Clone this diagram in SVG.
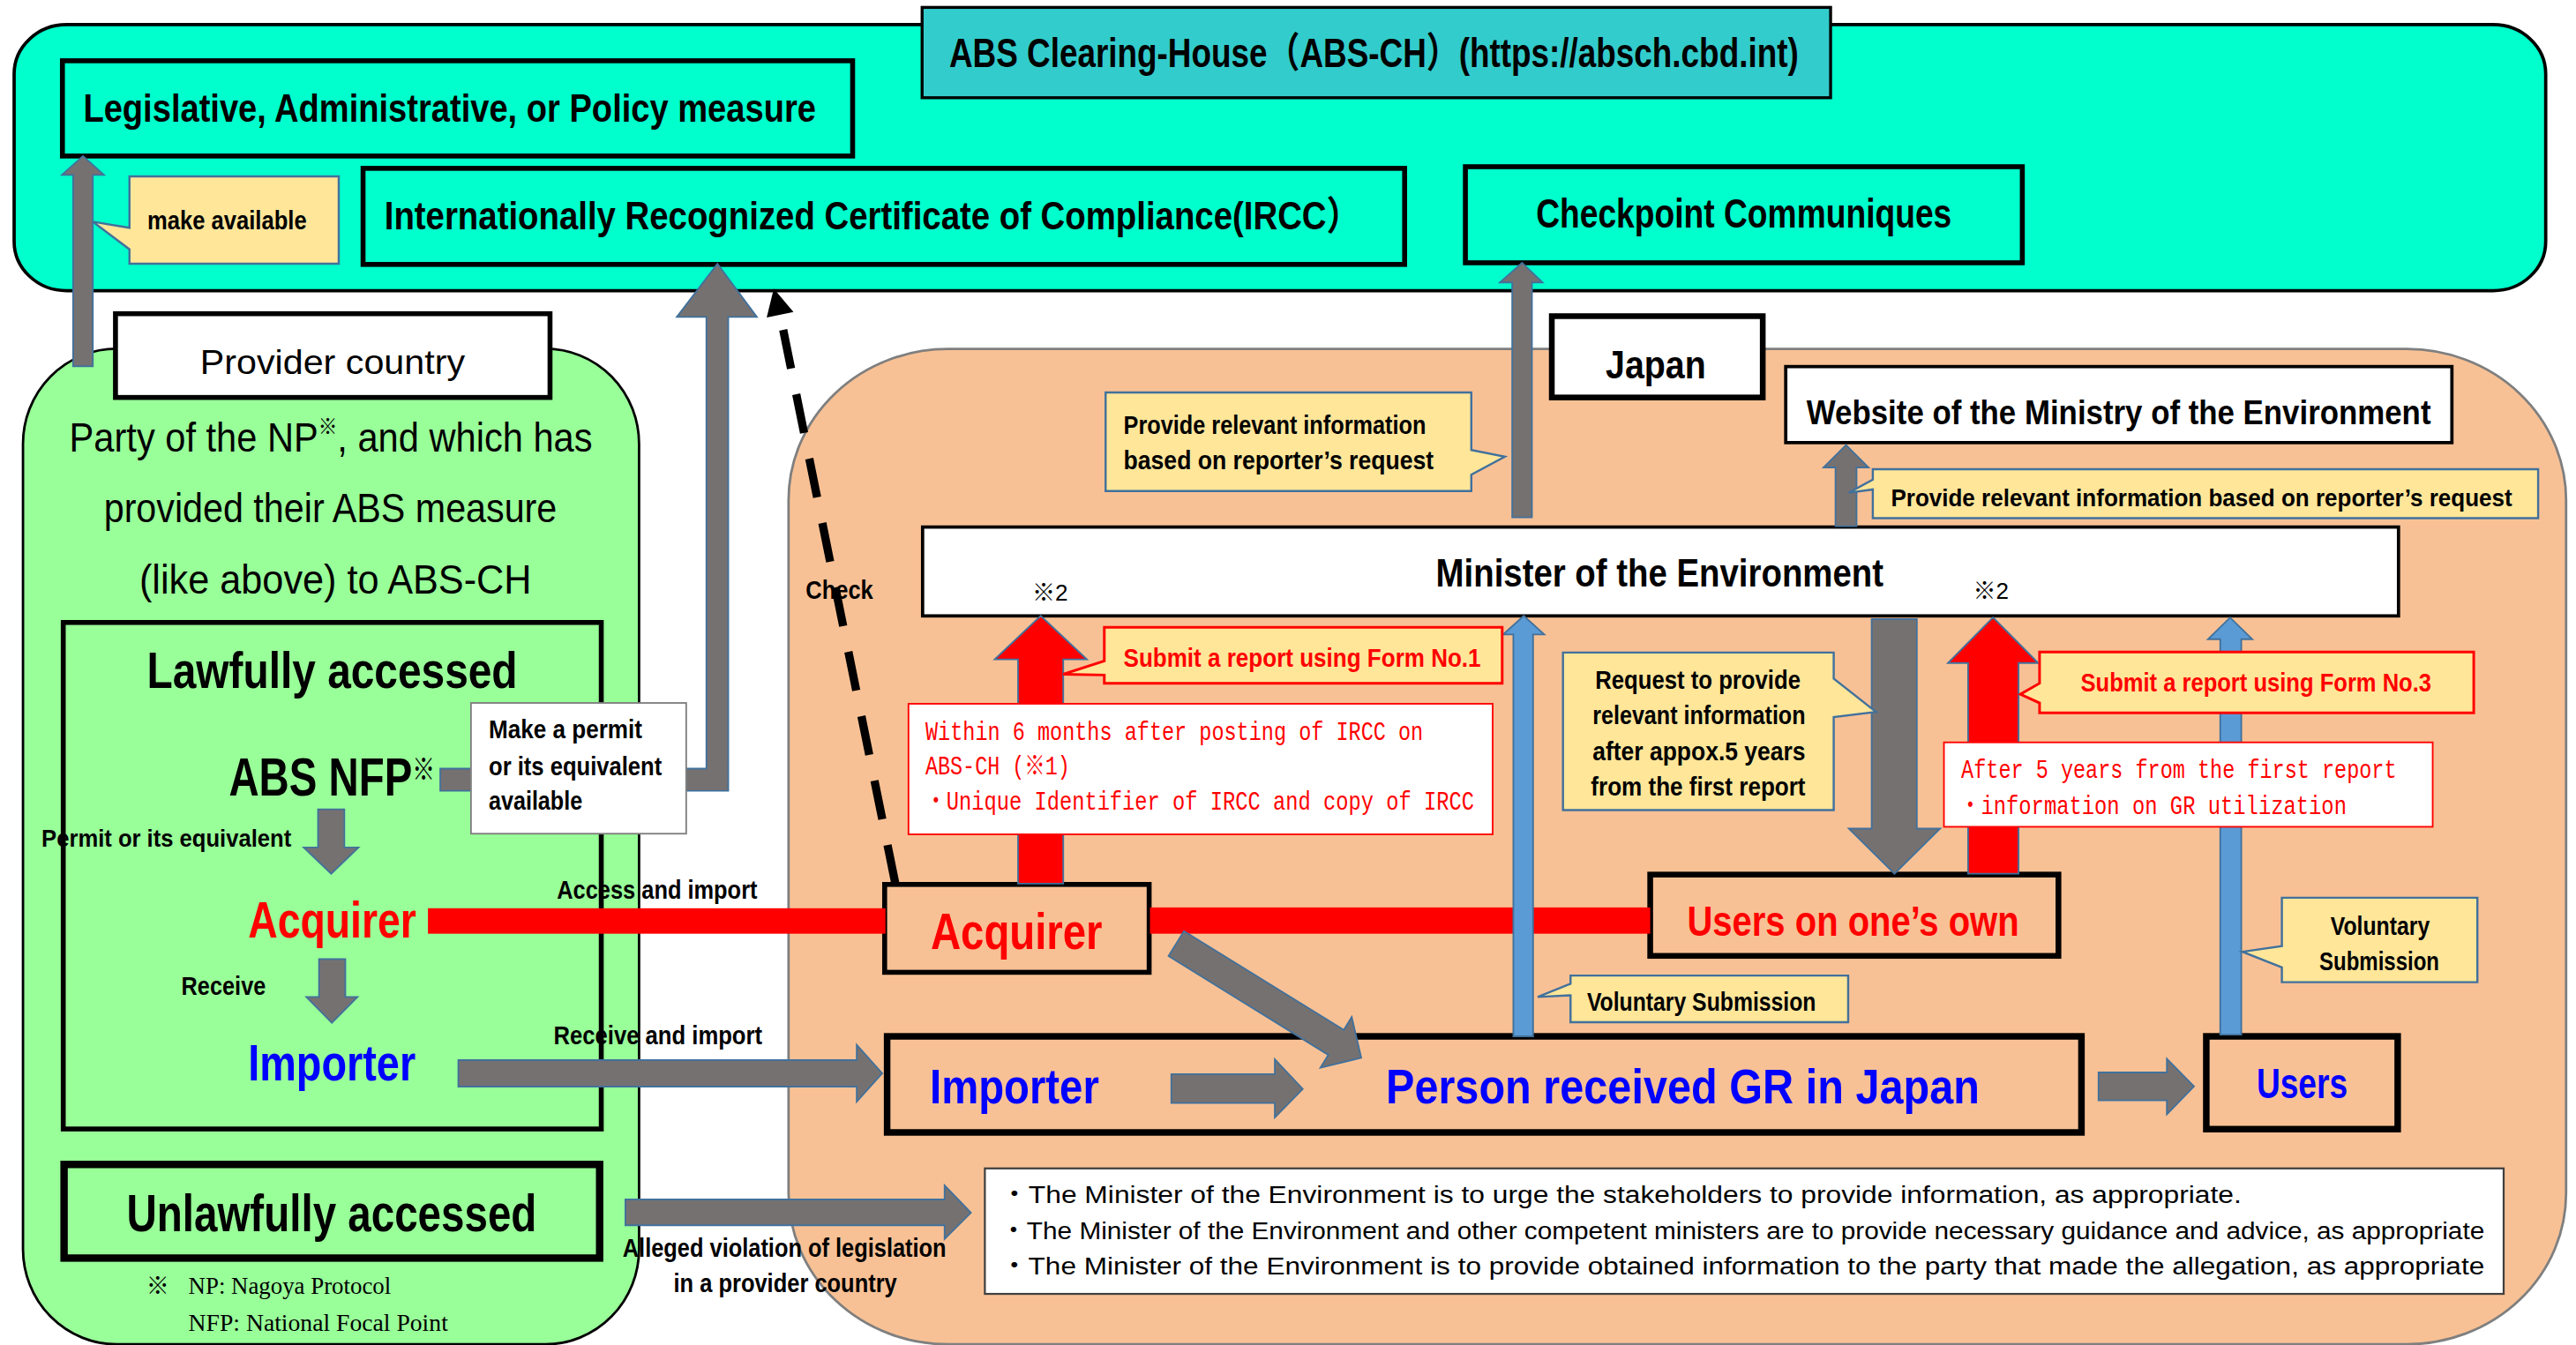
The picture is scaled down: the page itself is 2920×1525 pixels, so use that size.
<svg xmlns="http://www.w3.org/2000/svg" width="2920" height="1525" viewBox="0 0 2920 1525">
<defs>
<style>
.b{font-family:'Liberation Sans','Noto Sans CJK JP',sans-serif;font-weight:bold;fill:#000}
.n{font-family:'Liberation Sans','Noto Sans CJK JP',sans-serif;font-weight:normal;fill:#000}
.m{font-family:'Liberation Mono','Noto Sans CJK JP',monospace;font-weight:normal}
.s{font-family:'Liberation Serif','Noto Serif CJK JP',serif;fill:#000}
.rd{fill:#FF0000}
.bl{fill:#0000FF}
.box{fill:none;stroke:#000}
.wbox{fill:#FFFFFF;stroke:#000}
.gray{fill:#767171;stroke:#41719C;stroke-width:1}
.redar{fill:#FF0000;stroke:#41719C;stroke-width:1}
.bluar{fill:#5B9BD5;stroke:#41719C;stroke-width:1}
.call{fill:#FFE699;stroke:#41719C;stroke-width:1.3}
.callr{fill:#FFE699;stroke:#FF0000;stroke-width:1.6}
.rbox{fill:#FFFFFF;stroke:#FF0000;stroke-width:1}
.rbar{fill:#FF0000}
</style>
</defs>
<rect x="0" y="0" width="2920" height="1525" fill="#FFFFFF"/>
<g transform="scale(1.8622)">

<!-- containers -->
<g id="abs-ch">
<rect x="8.6" y="15" width="1541" height="162" rx="32" ry="30" fill="#00FFCC" stroke="#000" stroke-width="2"/>
<rect x="561.3" y="4.5" width="553" height="55" fill="#33CCCC" stroke="#000" stroke-width="1.8"/>
<text class="b" x="577.8" y="41" font-size="25" textLength="517" lengthAdjust="spacingAndGlyphs">ABS Clearing-House（ABS-CH）(https://absch.cbd.int)</text>
</g>

<g id="provider-country">
<rect x="14" y="212.3" width="375" height="606.2" rx="57" ry="58" fill="#99FF99" stroke="#000" stroke-width="1.5"/>
<rect x="70.3" y="191" width="264.5" height="51" class="wbox" stroke-width="3"/>
<text class="n" x="121.8" y="227.7" font-size="21" textLength="161.2" lengthAdjust="spacingAndGlyphs">Provider country</text>
<text class="n" x="42.2" y="275" font-size="25" textLength="318.4" lengthAdjust="spacingAndGlyphs">Party of the NP<tspan font-size="13" dy="-11">※</tspan><tspan dy="11">, and which has</tspan></text>
<text class="n" x="63.2" y="318" font-size="25" textLength="275.8" lengthAdjust="spacingAndGlyphs">provided their ABS measure</text>
<text class="n" x="84.8" y="361.3" font-size="25" textLength="238.8" lengthAdjust="spacingAndGlyphs">(like above) to ABS-CH</text>
</g>

<g id="japan">
<rect x="480" y="212.5" width="1082" height="606" rx="97" ry="92" fill="#F8C195" stroke="#7F7F7F" stroke-width="1.5"/>
<rect x="944.6" y="192.5" width="128.4" height="49.5" class="wbox" stroke-width="3.5"/>
<text class="b" x="977.4" y="230.5" font-size="24" textLength="61" lengthAdjust="spacingAndGlyphs">Japan</text>
</g>

<!-- nodes -->
<g id="legislative-measure">
<rect x="38" y="37" width="481" height="58" class="box" stroke-width="3"/>
<text class="b" x="50.7" y="74.3" font-size="24" textLength="446" lengthAdjust="spacingAndGlyphs">Legislative, Administrative, or Policy measure</text>
</g>

<g id="ircc">
<rect x="221" y="102.5" width="634" height="58.5" class="box" stroke-width="3"/>
<text class="b" x="234" y="139.6" font-size="24" textLength="594" lengthAdjust="spacingAndGlyphs">Internationally Recognized Certificate of Compliance(IRCC）</text>
</g>

<g id="checkpoint-communiques">
<rect x="892" y="101.5" width="339" height="58.5" class="box" stroke-width="3"/>
<text class="b" x="935" y="138.7" font-size="25" textLength="253" lengthAdjust="spacingAndGlyphs">Checkpoint Communiques</text>
</g>

<g id="lawfully-accessed">
<rect x="38.5" y="379" width="327.5" height="308.4" class="box" stroke-width="3"/>
<text class="b" x="89.4" y="419" font-size="31" textLength="225.6" lengthAdjust="spacingAndGlyphs">Lawfully accessed</text>
</g>

<g id="abs-nfp">
<text class="b" x="139.3" y="484.6" font-size="33" textLength="125.5" lengthAdjust="spacingAndGlyphs">ABS NFP<tspan font-size="18" dy="-10">※</tspan></text>
</g>

<g id="acquirer-provider">
<text class="b rd" x="151" y="571" font-size="31" textLength="102.4" lengthAdjust="spacingAndGlyphs">Acquirer</text>
</g>

<g id="importer-provider">
<text class="b bl" x="151" y="658" font-size="31" textLength="102" lengthAdjust="spacingAndGlyphs">Importer</text>
</g>

<g id="unlawfully-accessed">
<rect x="39" y="709" width="326" height="57" class="box" stroke-width="4.5"/>
<text class="b" x="77" y="749.4" font-size="32" textLength="249.7" lengthAdjust="spacingAndGlyphs">Unlawfully accessed</text>
</g>

<g id="website-moe">
<rect x="1087" y="223.2" width="405.5" height="46.3" class="wbox" stroke-width="2"/>
<text class="b" x="1099.7" y="258.2" font-size="21" textLength="380" lengthAdjust="spacingAndGlyphs">Website of the Ministry of the Environment</text>
</g>

<g id="minister">
<rect x="561.6" y="320.9" width="898.4" height="54.1" class="wbox" stroke-width="2"/>
<text class="b" x="874" y="357" font-size="24" textLength="272.5" lengthAdjust="spacingAndGlyphs">Minister of the Environment</text>
<text class="n" x="628.3" y="365.9" font-size="14">※2</text>
<text class="n" x="1201" y="364.8" font-size="14">※2</text>
</g>

<g id="acquirer-japan">
<rect x="538.5" y="538.5" width="161" height="53.5" class="box" stroke-width="3"/>
<text class="b rd" x="566.5" y="578" font-size="31" textLength="104.5" lengthAdjust="spacingAndGlyphs">Acquirer</text>
</g>

<g id="users-own">
<rect x="1004.5" y="532.5" width="248.5" height="49.5" class="box" stroke-width="3.5"/>
<text class="b rd" x="1027" y="570" font-size="26" textLength="202" lengthAdjust="spacingAndGlyphs">Users on one’s own</text>
</g>

<g id="person-received-gr">
<rect x="540" y="631" width="727" height="58.5" class="box" stroke-width="4"/>
<text class="b bl" x="566" y="671.6" font-size="30" textLength="103" lengthAdjust="spacingAndGlyphs">Importer</text>
<text class="b bl" x="843.6" y="671.6" font-size="30" textLength="361.4" lengthAdjust="spacingAndGlyphs">Person received GR in Japan</text>
</g>

<g id="users">
<rect x="1343" y="631" width="116.5" height="56.5" class="box" stroke-width="4"/>
<text class="b bl" x="1373.6" y="668.6" font-size="26" textLength="55.4" lengthAdjust="spacingAndGlyphs">Users</text>
</g>

<!-- connectors -->
<g id="connectors">
<polygon class="gray" points="44.5,223 44.5,106.5 37.7,106.5 50.5,95 63.3,106.5 56.5,106.5 56.5,223"/>
<polygon class="gray" points="268,468 430,468 430,193 412,193 436.7,160.6 460.7,193 443.3,193 443.3,481.5 268,481.5"/>
<line x1="545" y1="538" x2="474.9" y2="191.7" stroke="#000" stroke-width="5" stroke-dasharray="24 16"/>
<polygon fill="#000" points="471,175.8 466.7,193.3 483,190"/>
<polygon class="gray" points="193.6,492.8 209.6,492.8 209.6,516 218.2,516 201.6,532 184.9,516 193.6,516"/>
<polygon class="gray" points="194.2,584 210.2,584 210.2,607 217.6,607 202,622.8 186.5,607 194.2,607"/>
<rect class="rbar" x="260.5" y="553" width="278.5" height="15.5"/>
<rect class="rbar" x="700" y="552.5" width="304.5" height="16"/>
<polygon class="gray" points="279,645.5 521.5,645.5 521.5,636.2 537,653.5 521.5,670.8 521.5,661.6 279,661.6"/>
<polygon class="gray" points="380.7,730.3 575,730.3 575,721.8 591,738.4 575,754.3 575,746 380.7,746"/>
<polygon class="gray" points="920.5,315 920.5,172 913,172 926.5,160 939,172 932.5,172 932.5,315"/>
<polygon class="gray" points="1117.3,320.4 1117.3,284.6 1110,284.6 1123.7,271 1137.4,284.6 1130.1,284.6 1130.1,320.4"/>
<polygon class="redar" points="619.7,538 619.7,401.5 605.5,401.5 633.5,375 661.6,401.5 647.2,401.5 647.2,538"/>
<polygon class="bluar" points="921.2,631 921.2,386.3 915,386.3 927.5,375 940,386.3 933.2,386.3 933.2,631"/>
<polygon class="gray" points="1139.3,377 1166.8,377 1166.8,504.5 1181,504.5 1153.2,532 1125.4,504.5 1139.3,504.5"/>
<polygon class="redar" points="1198,532 1198,403.7 1185.7,403.7 1213.2,376 1240.7,403.7 1228.7,403.7 1228.7,532"/>
<polygon class="bluar" points="1351.5,630 1351.5,389.2 1344,389.2 1357.5,376 1371,389.2 1364.3,389.2 1364.3,630"/>
<polygon class="gray" points="720.7,566.9 818,627.1 822.8,619.3 828.6,644 803.8,650.1 808.6,642.3 711.3,582.1"/>
<polygon class="gray" points="713,654 776,654 776,645 793,663 776,680.4 776,671.6 713,671.6"/>
<polygon class="gray" points="1277.4,653 1319,653 1319,644.7 1335.5,661.5 1319,678.5 1319,670 1277.4,670"/>
</g>

<!-- annotations -->
<g id="make-permit-available">
<rect x="286.7" y="428" width="131" height="79.6" fill="#FFFFFF" stroke="#7F7F7F" stroke-width="1"/>
<text class="b" x="297.5" y="449.6" font-size="16" textLength="93.4" lengthAdjust="spacingAndGlyphs">Make a permit</text>
<text class="b" x="297.5" y="471.9" font-size="16" textLength="105.4" lengthAdjust="spacingAndGlyphs">or its equivalent</text>
<text class="b" x="297.5" y="492.8" font-size="16" textLength="57" lengthAdjust="spacingAndGlyphs">available</text>
</g>

<g id="callout-make-available">
<path class="call" d="M78.8,107.4 H206.2 V160.6 H78.8 V151.8 L56.5,135 L78.8,138.7 Z"/>
<text class="b" x="89.7" y="139.6" font-size="16" textLength="97" lengthAdjust="spacingAndGlyphs">make available</text>
</g>

<g id="callout-provide-left">
<path class="call" d="M673,239 H895.6 V274 L916,278 L895.6,289 V299 H673 Z"/>
<text class="b" x="683.9" y="264" font-size="16" textLength="184.1" lengthAdjust="spacingAndGlyphs">Provide relevant information</text>
<text class="b" x="683.9" y="285.8" font-size="16" textLength="188.8" lengthAdjust="spacingAndGlyphs">based on reporter’s request</text>
</g>

<g id="callout-provide-right">
<path class="call" d="M1140,285.7 H1545 V315.5 H1140 V298 L1125.4,300 L1140,292 Z"/>
<text class="b" x="1151" y="308" font-size="15" textLength="378.2" lengthAdjust="spacingAndGlyphs">Provide relevant information based on reporter’s request</text>
</g>

<g id="callout-form1">
<path class="callr" d="M672.2,382 H914.4 V416 H672.2 V411 L647.2,410.5 L672.2,402.5 Z"/>
<text class="b rd" x="683.9" y="405.8" font-size="16" textLength="217.5" lengthAdjust="spacingAndGlyphs">Submit a report  using Form No.1</text>
</g>

<g id="note-within-6-months">
<rect class="rbox" x="553" y="428.5" width="355.6" height="79.5"/>
<text class="m rd" x="563.3" y="450.4" font-size="16" textLength="303" lengthAdjust="spacingAndGlyphs">Within 6 months after posting of IRCC on</text>
<text class="m rd" x="563.3" y="471.6" font-size="16" textLength="88" lengthAdjust="spacingAndGlyphs">ABS-CH (※1)</text>
<text class="m rd" x="563.3" y="493.2" font-size="16" textLength="334" lengthAdjust="spacingAndGlyphs">・Unique Identifier of IRCC and copy of IRCC</text>
</g>

<g id="callout-request">
<path class="call" d="M951.4,397.3 H1116.2 V413.2 L1141.9,433.4 L1116.2,436.6 V493.2 H951.4 Z"/>
<text class="b" x="971" y="419.6" font-size="16" textLength="125" lengthAdjust="spacingAndGlyphs">Request to provide</text>
<text class="b" x="969.4" y="440.9" font-size="16" textLength="129.6" lengthAdjust="spacingAndGlyphs">relevant information</text>
<text class="b" x="969.4" y="463.1" font-size="16" textLength="129.6" lengthAdjust="spacingAndGlyphs">after appox.5 years</text>
<text class="b" x="968.4" y="484.4" font-size="16" textLength="130.6" lengthAdjust="spacingAndGlyphs">from the first report</text>
</g>

<g id="callout-form3">
<path class="callr" d="M1241.5,397 H1505.8 V434 H1241.5 V428 L1229.8,422.7 L1241.5,416 Z"/>
<text class="b rd" x="1266.5" y="421" font-size="16" textLength="213.5" lengthAdjust="spacingAndGlyphs">Submit a report using Form No.3</text>
</g>

<g id="note-after-5-years">
<rect class="rbox" x="1183.3" y="452" width="297.5" height="51.4"/>
<text class="m rd" x="1193.8" y="473.6" font-size="16" textLength="265" lengthAdjust="spacingAndGlyphs">After 5 years from the first report</text>
<text class="m rd" x="1193" y="495.4" font-size="16" textLength="235.4" lengthAdjust="spacingAndGlyphs">・information on GR utilization</text>
</g>

<g id="callout-voluntary-left">
<path class="call" d="M956,594 H1125 V622.4 H956 V606 L936,607 L956,599 Z"/>
<text class="b" x="966" y="615.5" font-size="16" textLength="139.4" lengthAdjust="spacingAndGlyphs">Voluntary Submission</text>
</g>

<g id="callout-voluntary-right">
<path class="call" d="M1389,546.6 H1508 V598 H1389 V589 L1365,579.5 L1389,576 Z"/>
<text class="b" x="1418.6" y="569" font-size="16" textLength="60.4" lengthAdjust="spacingAndGlyphs">Voluntary</text>
<text class="b" x="1411.8" y="590.7" font-size="16" textLength="73" lengthAdjust="spacingAndGlyphs">Submission</text>
</g>

<g id="note-minister-duties">
<rect x="599.5" y="711.4" width="924.5" height="76.4" fill="#FFFFFF" stroke="#404040" stroke-width="1.2"/>
<text class="n" x="609" y="732.5" font-size="15" textLength="755.4" lengthAdjust="spacingAndGlyphs">・The Minister of the Environment is to urge the stakeholders to provide information, as appropriate.</text>
<text class="n" x="609" y="754.3" font-size="15" textLength="903.3" lengthAdjust="spacingAndGlyphs">・The Minister of the Environment and other competent ministers are to provide necessary guidance and advice, as appropriate</text>
<text class="n" x="609" y="776" font-size="15" textLength="903.3" lengthAdjust="spacingAndGlyphs">・The Minister of the Environment is to provide obtained information to the party that made the allegation, as appropriate</text>
</g>

<g id="labels">
<text class="b" x="490.4" y="364.4" font-size="16" textLength="41.1" lengthAdjust="spacingAndGlyphs">Check</text>
<text class="b" x="25.3" y="515.4" font-size="15" textLength="152" lengthAdjust="spacingAndGlyphs">Permit or its equivalent</text>
<text class="b" x="339" y="547" font-size="16" textLength="122" lengthAdjust="spacingAndGlyphs">Access and import</text>
<text class="b" x="110.4" y="605.6" font-size="16" textLength="51.4" lengthAdjust="spacingAndGlyphs">Receive</text>
<text class="b" x="337" y="636" font-size="16" textLength="127" lengthAdjust="spacingAndGlyphs">Receive and import</text>
<text class="b" x="379" y="765" font-size="16" textLength="197" lengthAdjust="spacingAndGlyphs">Alleged violation of legislation</text>
<text class="b" x="410" y="786.7" font-size="16" textLength="136" lengthAdjust="spacingAndGlyphs">in a provider country</text>
</g>

<g id="footnote">
<text class="s" x="89" y="788" font-size="14">※</text>
<text class="s" x="114.7" y="787.8" font-size="14.5" textLength="123.3" lengthAdjust="spacingAndGlyphs">NP: Nagoya Protocol</text>
<text class="s" x="114.7" y="810.5" font-size="14.5" textLength="158" lengthAdjust="spacingAndGlyphs">NFP: National Focal Point</text>
</g>

</g>
</svg>
